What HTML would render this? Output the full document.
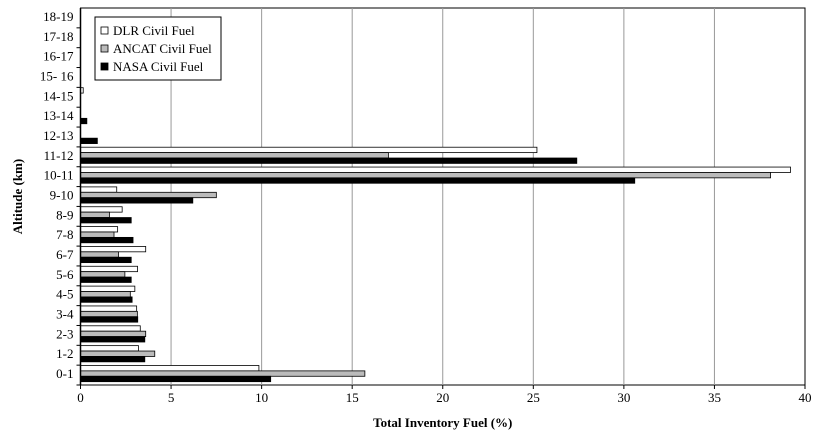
<!DOCTYPE html>
<html><head><meta charset="utf-8"><style>
body{margin:0;background:#fff;}
svg text{font-family:"Liberation Serif",serif;fill:#000;}
</style></head><body>
<svg id="c" width="820" height="437"></svg>
<script>
const categories=["0-1","1-2","2-3","3-4","4-5","5-6","6-7","7-8","8-9","9-10","10-11","11-12","12-13","13-14","14-15","15- 16","16-17","17-18","18-19"];
const dlr=[9.85,3.2,3.3,3.1,3.0,3.15,3.6,2.05,2.3,2.0,39.2,25.2,0,0,0.15,0,0,0,0];
const ancat=[15.7,4.1,3.6,3.14,2.75,2.45,2.1,1.85,1.6,7.5,38.1,17.0,0,0,0,0,0,0,0];
const nasa=[10.5,3.55,3.55,3.16,2.85,2.8,2.8,2.9,2.8,6.2,30.6,27.4,0.93,0.35,0,0,0,0,0];
const xTicks=[0,5,10,15,20,25,30,35,40];
const seriesNames=["DLR Civil Fuel","ANCAT Civil Fuel","NASA Civil Fuel"];
const L=80.5,R=805,T=8,B=385;
const ns="http://www.w3.org/2000/svg",svg=document.getElementById('c');
const x=v=>L+(v/40)*(R-L);
const band=(B-T)/categories.length;
const yc=i=>B-band*(i+0.5)-1.5;
function mk(t,a,p){const e=document.createElementNS(ns,t);for(const k in a)e.setAttribute(k,a[k]);(p||svg).appendChild(e);return e;}
let e;
e=mk('rect',{x:L,y:T,width:R-L,height:B-T,fill:'#fff',stroke:'#000','stroke-width':1});


xTicks.forEach(t=>{
  if(t>0&&t<40){e=mk('line',{x1:x(t),x2:x(t),y1:T,y2:B,stroke:'#999','stroke-width':1});
  
  }
  e=mk('line',{x1:x(t),x2:x(t),y1:B,y2:B+4,stroke:'#000'});
  
  
  e=mk('text',{x:x(t),y:B+17,'text-anchor':'middle','font-size':13});e.textContent=t;
  
  
});
const fills=['#fff','#bbb','#000'];const data=[dlr,ancat,nasa];const bh=5.4;
categories.forEach((c,i)=>{
  e=mk('line',{x1:L-4,x2:L,y1:B-band*i,y2:B-band*i,stroke:'#000'});
  
  
  e=mk('text',{x:L-7,y:yc(i)+4.5,'text-anchor':'end','font-size':13});e.textContent=c;
  
  
  data.forEach((s,k)=>{
    if(s[i]<=0)return;
    e=mk('rect',{x:L,y:yc(i)-bh*1.5+k*bh,width:x(s[i])-L,height:bh,fill:fills[k],stroke:'#000','stroke-width':0.8});
    
    
  });
});
mk('line',{x1:L,x2:L,y1:T,y2:B,stroke:'#000','stroke-width':1.5});
const lg=mk('g',{});


mk('rect',{x:95,y:17,width:126,height:63,fill:'#fff',stroke:'#000'},lg);
seriesNames.forEach((n,k)=>{
  e=mk('rect',{x:101,y:27+k*18,width:7,height:7,fill:fills[k],stroke:'#000','stroke-width':0.8},lg);
  
  
  e=mk('text',{x:113,y:35+k*18,'font-size':13},lg);e.textContent=n;
  
  
});
e=mk('text',{x:(L+R)/2,y:427,'text-anchor':'middle','font-size':13,'font-weight':'bold'});e.textContent='Total Inventory Fuel (%)';


e=mk('text',{x:0,y:0,'text-anchor':'middle','font-size':13,'font-weight':'bold',transform:'translate(22,'+((T+B)/2)+') rotate(-90)'});e.textContent='Altitude (km)';


</script>
</body></html>
